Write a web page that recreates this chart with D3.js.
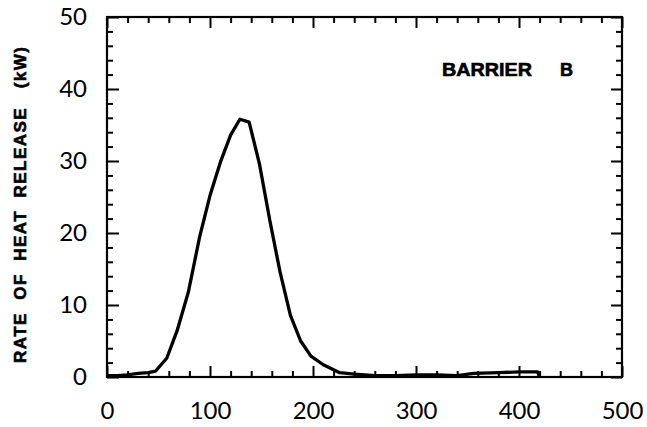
<!DOCTYPE html>
<html>
<head>
<meta charset="utf-8">
<script src="https://cdn.jsdelivr.net/npm/d3@7"></script>
<style>
  html, body { margin: 0; padding: 0; background: #fff; }
  svg { display: block; }
  .tick text { font-family: Lato, "DejaVu Sans", sans-serif; font-weight: 400; font-size: 24px; fill: #000; }
  .lbl { font-family: "Liberation Sans", Arial, sans-serif; font-weight: bold; fill: #000; stroke: #000; stroke-width: 0.6; white-space: pre; }
</style>
</head>
<body>
<script>
// Heat release rate history for barrier B
const timeSec = [0, 10, 20, 30, 40, 47, 58, 68, 79, 90, 100, 110, 120, 129, 138, 148, 158, 168, 178, 188, 198, 210, 226, 240, 260, 280, 300, 320, 340, 356, 380, 400, 418, 420];
const hrrKW   = [0.2, 0.2, 0.3, 0.5, 0.6, 0.8, 2.6, 6.4, 11.8, 19.5, 25.2, 29.8, 33.6, 35.8, 35.4, 29.6, 21.8, 14.6, 8.6, 5.0, 2.9, 1.7, 0.6, 0.4, 0.2, 0.2, 0.3, 0.3, 0.2, 0.5, 0.6, 0.7, 0.7, 0];

const xTicks = [0, 100, 200, 300, 400, 500];
const yTicks = [0, 10, 20, 30, 40, 50];
const yTitle = "RATE  OF  HEAT  RELEASE   (kW)";
const panelWord = "BARRIER";
const panelLetter = "B";

const W = 647, H = 427;
const m = { left: 107, top: 17, right: 25, bottom: 50 };
const iw = W - m.left - m.right, ih = H - m.top - m.bottom;

const svg = d3.select("body").append("svg").attr("width", W).attr("height", H);
const g = svg.append("g").attr("transform", `translate(${m.left},${m.top})`);

const x = d3.scaleLinear().domain([0, 500]).range([0, iw]);
const y = d3.scaleLinear().domain([0, 50]).range([ih, 0]);

const xMinor = d3.range(0, 501, 20).filter(v => v % 100 !== 0);
const yMinor = d3.range(0, 51, 2).filter(v => v % 10 !== 0);

function style(sel) {
  sel.select(".domain").remove();
  sel.selectAll(".tick line").attr("stroke", "#000").attr("stroke-width", 2);
}

// bottom: labelled major ticks + minor ticks, all pointing inward
g.append("g").attr("transform", `translate(0,${ih})`)
  .call(d3.axisBottom(x).tickValues(xTicks).tickSizeInner(-11).tickSizeOuter(0).tickPadding(25).tickFormat(d3.format("d")))
  .call(style);
g.append("g").attr("transform", `translate(0,${ih})`)
  .call(d3.axisBottom(x).tickValues(xMinor).tickSizeInner(-6).tickSizeOuter(0).tickFormat(""))
  .call(style);
// top
g.append("g")
  .call(d3.axisTop(x).tickValues(xTicks).tickSizeInner(-11).tickSizeOuter(0).tickFormat(""))
  .call(style);
g.append("g")
  .call(d3.axisTop(x).tickValues(xMinor).tickSizeInner(-6).tickSizeOuter(0).tickFormat(""))
  .call(style);
// left
g.append("g")
  .call(d3.axisLeft(y).tickValues(yTicks).tickSizeInner(-12).tickSizeOuter(0).tickPadding(20).tickFormat(d3.format("d")))
  .call(style);
g.append("g")
  .call(d3.axisLeft(y).tickValues(yMinor).tickSizeInner(-6).tickSizeOuter(0).tickFormat(""))
  .call(style);
// right
g.append("g").attr("transform", `translate(${iw},0)`)
  .call(d3.axisRight(y).tickValues(yTicks).tickSizeInner(-11).tickSizeOuter(0).tickFormat(""))
  .call(style);
g.append("g").attr("transform", `translate(${iw},0)`)
  .call(d3.axisRight(y).tickValues(yMinor).tickSizeInner(-6).tickSizeOuter(0).tickFormat(""))
  .call(style);

// frame
g.append("rect").attr("width", iw).attr("height", ih)
  .attr("fill", "none").attr("stroke", "#000").attr("stroke-width", 2.2);

// curve
const pts = timeSec.map((t, i) => [t, hrrKW[i]]);
g.append("path").datum(pts)
  .attr("fill", "none").attr("stroke", "#000").attr("stroke-width", 3.3)
  .attr("stroke-linejoin", "round")
  .attr("d", d3.line().x(d => x(d[0])).y(d => y(d[1])));

// panel label
svg.append("text").attr("class", "lbl").attr("x", 442).attr("y", 76)
  .attr("font-size", 18).attr("textLength", 90).attr("lengthAdjust", "spacingAndGlyphs").text(panelWord);
svg.append("text").attr("class", "lbl").attr("x", 560).attr("y", 76)
  .attr("font-size", 18).attr("textLength", 13).attr("lengthAdjust", "spacingAndGlyphs").text(panelLetter);

// y-axis title
svg.append("text").attr("class", "lbl")
  .attr("transform", "translate(26,363) rotate(-90)")
  .attr("font-size", 17).attr("textLength", 316).attr("lengthAdjust", "spacing")
  .text(yTitle);
</script>
</body>
</html>
